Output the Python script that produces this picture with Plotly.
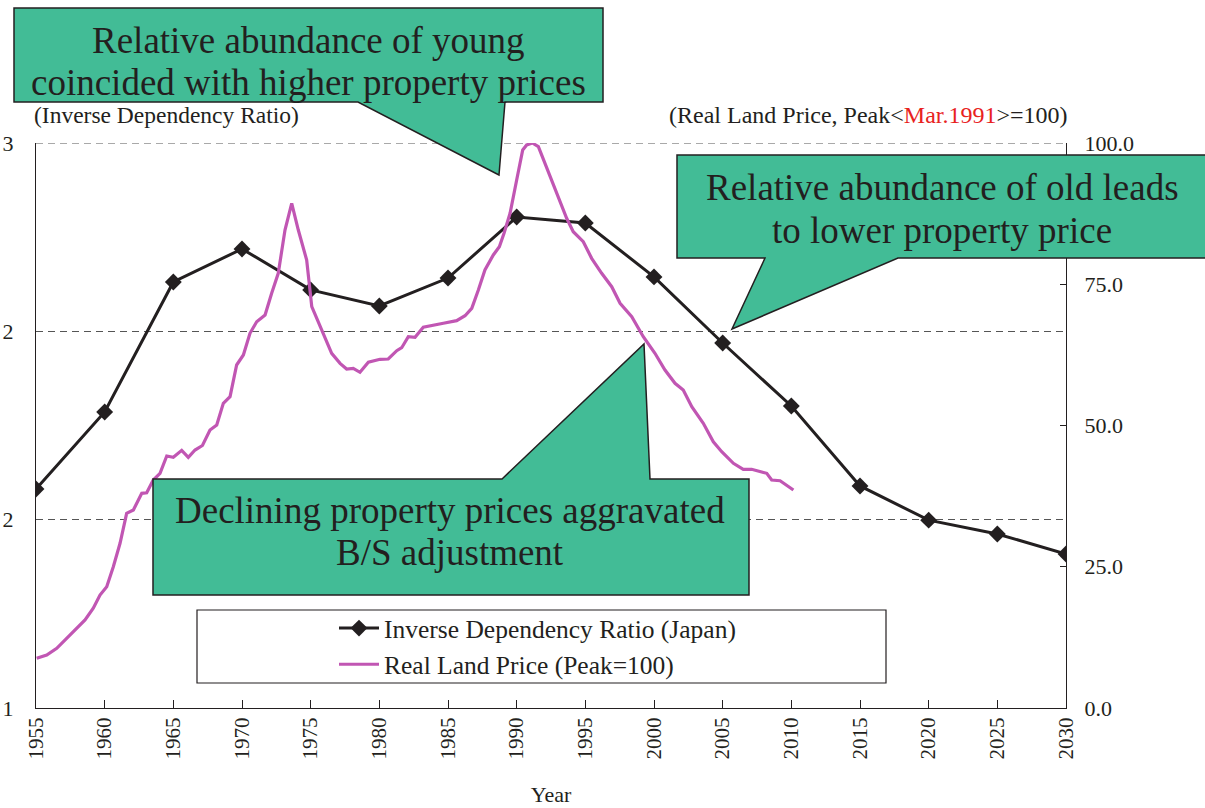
import plotly.graph_objects as go

# ---------------- data ----------------
idr_years = [1955, 1960, 1965, 1970, 1975, 1980, 1985, 1990, 1995, 2000,
             2005, 2010, 2015, 2020, 2025, 2030]
idr_values = [1.775, 2.048, 2.508, 2.625, 2.480, 2.423, 2.522, 2.738, 2.717,
              2.526, 2.292, 2.069, 1.786, 1.665, 1.616, 1.545]

land_years = [1955.05, 1955.78, 1956.51, 1957.24, 1957.96, 1958.57, 1959.17, 1959.66,
              1960.15, 1960.63, 1961.12, 1961.60, 1962.09, 1962.70, 1963.06, 1963.54,
              1964.03, 1964.52, 1965.00, 1965.61, 1966.09, 1966.58, 1967.12, 1967.67,
              1968.16, 1968.64, 1969.13, 1969.61, 1970.10, 1970.58, 1971.07, 1971.68,
              1972.16, 1972.64, 1973.13, 1973.62, 1974.10, 1974.71, 1975.08, 1975.68,
              1976.53, 1977.14, 1977.62, 1978.10, 1978.59, 1979.20, 1980.05, 1980.65,
              1981.27, 1981.63, 1982.11, 1982.60, 1983.20, 1984.66, 1985.63, 1986.24,
              1986.73, 1987.21, 1987.69, 1988.30, 1988.74, 1989.08, 1989.52, 1990.00,
              1990.44, 1990.73, 1991.14, 1991.58, 1992.06, 1992.67, 1993.16, 1993.64,
              1994.12, 1994.85, 1995.46, 1996.19, 1996.92, 1997.53, 1998.38, 1999.22,
              2000.07, 2000.80, 2001.53, 2002.13, 2002.75, 2003.59, 2004.32, 2004.93,
              2005.78, 2006.50, 2007.11, 2007.72, 2008.21, 2008.57, 2009.18, 2010.15]
land_values = [8.80, 9.38, 10.57, 12.34, 14.11, 15.58, 17.65, 20.00,
               21.47, 25.00, 29.15, 34.46, 35.04, 38.00, 38.10, 40.35,
               41.54, 44.60, 44.37, 45.60, 44.37, 45.66, 46.46, 49.20,
               50.09, 53.93, 55.10, 60.71, 62.48, 66.32, 68.37, 69.56,
               73.40, 76.94, 84.60, 89.33, 84.60, 79.29, 71.03, 67.49,
               62.78, 61.00, 60.00, 60.12, 59.42, 61.19, 61.72, 61.77,
               63.24, 63.77, 65.72, 65.61, 67.38, 68.09, 68.55, 69.43,
               70.74, 73.98, 77.52, 80.18, 81.65, 84.02, 87.56, 93.45,
               98.76, 99.65, 100.00, 99.35, 96.40, 92.74, 89.73, 86.67,
               84.30, 82.53, 79.59, 76.94, 74.57, 71.63, 69.26, 65.72,
               62.78, 59.82, 57.47, 56.28, 53.33, 50.39, 47.13, 45.36,
               43.31, 42.25, 42.25, 41.82, 41.54, 40.35, 40.23, 38.58]

x_ticks = [1955, 1960, 1965, 1970, 1975, 1980, 1985, 1990, 1995, 2000,
           2005, 2010, 2015, 2020, 2025, 2030]
left_ticks = [1, 5 / 3, 7 / 3, 3]
left_ticktext = ["1", "2", "2", "3"]
right_ticks = [0, 25, 50, 75, 100]

# ---------------- layout helpers (page pixel -> paper) ----------------
W, H = 1205, 808
PLOT_L, PLOT_R, PLOT_T, PLOT_B = 36, 1066, 143, 708   # plot area in page pixels
L, T, R, B = PLOT_L, PLOT_T, W - PLOT_R, H - PLOT_B
PW, PH = PLOT_R - PLOT_L, PLOT_B - PLOT_T


def px(x):
    return (x - PLOT_L) / PW


def py(y):
    return (PLOT_B - y) / PH


def path(points):
    return "M " + " L ".join(f"{px(a):.5f},{py(b):.5f}" for a, b in points) + " Z"


SERIF = "Liberation Serif, Times New Roman, serif"
GREEN = "#42BC96"
INK = "#231F20"

fig = go.Figure()
fig.add_trace(go.Scatter(
    x=idr_years, y=idr_values, mode="lines+markers",
    name="Inverse Dependency Ratio (Japan)",
    line=dict(color=INK, width=3),
    marker=dict(symbol="diamond", size=13, color=INK),
    yaxis="y"))
fig.add_trace(go.Scatter(
    x=land_years, y=land_values, mode="lines",
    name="Real Land Price (Peak=100)",
    line=dict(color="#C156B3", width=3.2),
    yaxis="y2"))

shapes = []
# dashed top border at y = 3
shapes.append(dict(type="line", xref="paper", yref="y", x0=0, x1=1, y0=3, y1=3,
                   line=dict(color="#555555", width=1, dash="7px,5px"), layer="below"))
# legend frame
shapes.append(dict(type="rect", xref="paper", yref="paper",
                   x0=px(197), x1=px(886), y0=py(683), y1=py(610),
                   line=dict(color=INK, width=1.2), fillcolor="white", layer="above"))
# callouts
callouts = [
    [(14, 8), (603, 8), (603, 102), (505, 102), (499, 175), (358, 102), (14, 102)],
    [(677, 155), (1215, 155), (1215, 258), (898, 258), (732, 329), (765, 258), (677, 258)],
    [(153, 479), (502, 479), (644, 344), (650, 479), (749, 479), (749, 595), (153, 595)],
]
for c in callouts:
    shapes.append(dict(type="path", xref="paper", yref="paper", path=path(c),
                       fillcolor=GREEN, line=dict(color=INK, width=1.5), layer="above"))

annotations = []
lines = [
    ("Relative abundance of young", 308, 40),
    ("coincided with higher property prices", 308, 82),
    ("Relative abundance of old leads", 942, 187),
    ("to lower property price", 942, 230),
    ("Declining property prices aggravated", 450, 510),
    ("B/S adjustment", 450, 552),
]
for t, x, y in lines:
    annotations.append(dict(text=t, xref="paper", yref="paper", x=px(x), y=py(y),
                            xanchor="center", yanchor="middle", showarrow=False,
                            font=dict(family=SERIF, size=37, color=INK)))
annotations.append(dict(text="(Inverse Dependency Ratio)", xref="paper", yref="paper",
                        x=px(32), y=py(115), xanchor="left", yanchor="middle",
                        showarrow=False, font=dict(family=SERIF, size=23.5, color=INK)))
annotations.append(dict(text="(Real Land Price, Peak&lt;<span style='color:#E8221E'>Mar.1991</span>&gt;=100)",
                        xref="paper", yref="paper", x=px(1070), y=py(115),
                        xanchor="right", yanchor="middle", showarrow=False,
                        font=dict(family=SERIF, size=24, color=INK)))

fig.update_layout(
    width=W, height=H,
    margin=dict(l=L, r=R, t=T, b=B, pad=0, autoexpand=False),
    paper_bgcolor="white", plot_bgcolor="white",
    font=dict(family=SERIF, color=INK, size=20),
    showlegend=True,
    legend=dict(x=px(334), y=py(605), xanchor="left", yanchor="top",
                bgcolor="rgba(0,0,0,0)", borderwidth=0,
                font=dict(family=SERIF, size=25.5, color=INK),
                tracegroupgap=0, itemwidth=40),
    xaxis=dict(range=[1955, 2030], tickvals=x_ticks, tickangle=-90, automargin=False,
               ticks="inside", ticklen=8, tickcolor=INK, showgrid=False,
               showline=True, linecolor=INK, linewidth=1.2, zeroline=False,
               tickfont=dict(family=SERIF, size=21, color=INK),
               title=dict(text="Year", font=dict(family=SERIF, size=22, color=INK), standoff=28)),
    yaxis=dict(range=[1, 3], tickvals=left_ticks, ticktext=left_ticktext, automargin=False,
               ticks="", showline=True, linecolor=INK, linewidth=1.2,
               showgrid=True, gridcolor="#555555", gridwidth=1, griddash="7px,5px",
               zeroline=False, ticklabelstandoff=17,
               tickfont=dict(family=SERIF, size=22, color=INK)),
    yaxis2=dict(range=[0, 100], tickvals=right_ticks, tickformat=".1f", automargin=False,
                overlaying="y", side="right", ticks="inside", ticklen=6, tickcolor=INK,
                showline=True, linecolor=INK, linewidth=1.2, showgrid=False,
                zeroline=False, ticklabelstandoff=13,
                tickfont=dict(family=SERIF, size=22, color=INK)),
    shapes=shapes,
    annotations=annotations,
)

fig.write_html("out.html", config={"displayModeBar": False},
               post_script="document.body.style.margin='0';")
